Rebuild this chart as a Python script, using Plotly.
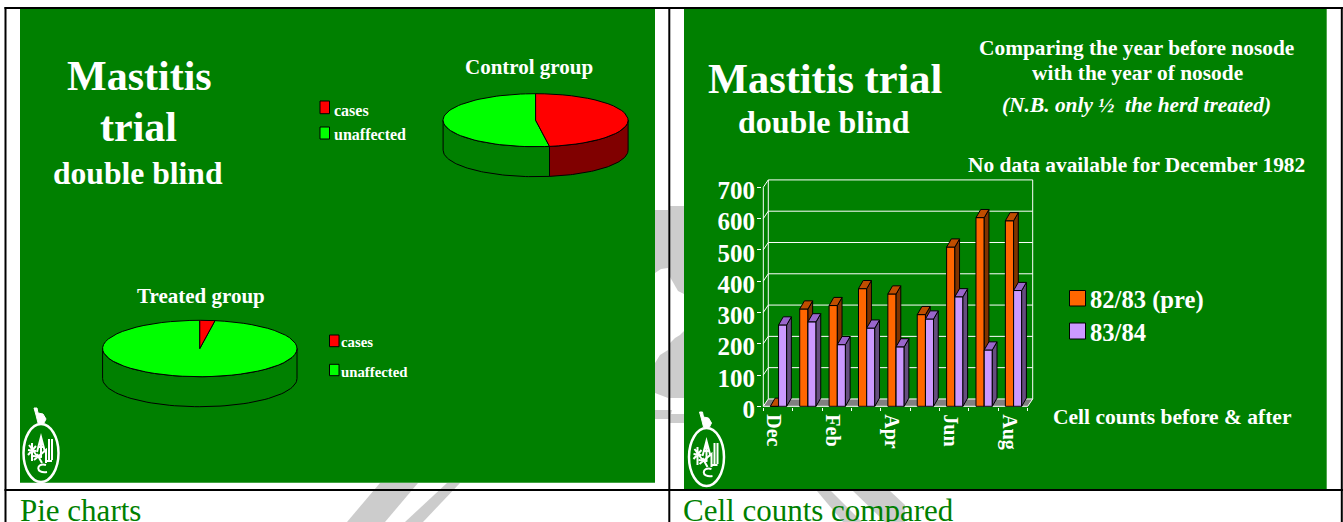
import math
import plotly.graph_objects as go

# ---------- data ----------
MONTHS = ["Dec", "Jan", "Feb", "Mar", "Apr", "May", "Jun", "Jul", "Aug"]
PRE_8283 = [0, 311, 322, 376, 359, 293, 509, 603, 593]
POST_8384 = [260, 270, 197, 250, 190, 279, 350, 180, 370]
Y_TICKS = [0, 100, 200, 300, 400, 500, 600, 700]
PIE_LABELS = ["cases", "unaffected"]
CONTROL_GROUP = [47.6, 52.4]
TREATED_GROUP = [2.5, 97.5]

# ---------- style ----------
W, H = 1343, 522
SERIF = "Liberation Serif"
BG = "#008000"
RED, RED_DK = "#FF0000", "#800000"
LIME, LIME_DK = "#00FF00", "#008000"
ORANGE, ORANGE_TOP, ORANGE_SIDE = "#FF6600", "#BF4D00", "#803300"
PURPLE, PURPLE_TOP, PURPLE_SIDE = "#CC99FF", "#9966CC", "#664D80"
GREY = "#CCCCCC"
CAPTION = "#008000"

fig = go.Figure()


def arc(cx, cy, rx, ry, a0, a1, dy=0.0, n=60):
    pts = [a0 + (a1 - a0) * i / n for i in range(n + 1)]
    return ([cx + rx * math.sin(t) for t in pts],
            [cy + dy - ry * math.cos(t) for t in pts])


def poly(xs, ys, fill, xa="x", ya="y", lw=1.0):
    fig.add_trace(go.Scatter(x=xs, y=ys, mode="lines", fill="toself", fillcolor=fill,
                             line=dict(color="black", width=lw), xaxis=xa, yaxis=ya,
                             hoverinfo="skip", showlegend=False, cliponaxis=False))


def pie(values, cx, cy, rx, ry, depth):
    total = sum(values)
    split = 2 * math.pi * values[0] / total
    lo, hi = math.pi / 2, 3 * math.pi / 2
    if split > lo:
        x1, y1 = arc(cx, cy, rx, ry, lo, split)
        x2, y2 = arc(cx, cy, rx, ry, split, lo, depth)
        poly(x1 + x2 + x1[:1], y1 + y2 + y1[:1], RED_DK)
    start = max(split, lo)
    x1, y1 = arc(cx, cy, rx, ry, start, hi)
    x2, y2 = arc(cx, cy, rx, ry, hi, start, depth)
    poly(x1 + x2 + x1[:1], y1 + y2 + y1[:1], LIME_DK)
    x1, y1 = arc(cx, cy, rx, ry, split, 2 * math.pi)
    poly([cx] + x1 + [cx], [cy] + y1 + [cy], LIME)
    x1, y1 = arc(cx, cy, rx, ry, 0, split, n=30)
    poly([cx] + x1 + [cx], [cy] + y1 + [cy], RED)


pie(CONTROL_GROUP, 535.6, 120.2, 92.5, 26.5, 30)
pie(TREATED_GROUP, 199.8, 348.5, 97.2, 28.2, 30)

WALL_DX, WALL_DY = 0.17, 23.5
BAR_DX, BAR_DY = 0.16, 26
X_LO, X_HI = -0.5, len(MONTHS) - 0.5
Y_TOP = Y_TICKS[-1]

poly([X_LO, X_HI, X_HI + WALL_DX, X_LO + WALL_DX, X_LO], [0, 0, WALL_DY, WALL_DY, 0], "#808080", "x2", "y2", 0)
gx, gy = [], []
for v in Y_TICKS:
    gx += [X_LO, X_LO + WALL_DX, X_HI + WALL_DX, None]
    gy += [v, v + WALL_DY, v + WALL_DY, None]
gx += [X_LO + WALL_DX, X_LO + WALL_DX, None, X_HI + WALL_DX, X_HI + WALL_DX, None, X_HI, X_HI + WALL_DX, None,
       X_LO, X_LO, None, X_LO, X_HI]
gy += [WALL_DY, Y_TOP + WALL_DY, None, WALL_DY, Y_TOP + WALL_DY, None, 0, WALL_DY, None,
       0, Y_TOP, None, 0, 0]
fig.add_trace(go.Scatter(x=gx, y=gy, mode="lines", line=dict(color="#FFFFFF", width=1), xaxis="x2", yaxis="y2",
                         hoverinfo="skip", showlegend=False, cliponaxis=False))


def bars(values, offset, width, name, front, top, side, xa, ya):
    idx = list(range(len(values)))
    fig.add_trace(go.Bar(x=idx, y=values, width=width, offset=offset, name=name,
                         marker=dict(color=front, line=dict(color="black", width=1)),
                         xaxis=xa, yaxis=ya, showlegend=False))
    sx, sy, tx, ty = [], [], [], []
    for i, v in zip(idx, values):
        l, r = i + offset, i + offset + width
        sx += [r, r + BAR_DX, r + BAR_DX, r, r, None]
        sy += [0, BAR_DY, v + BAR_DY, v, 0, None]
        tx += [l, l + BAR_DX, r + BAR_DX, r, l, None]
        ty += [v, v + BAR_DY, v + BAR_DY, v, v, None]
    poly(sx, sy, side, xa, ya)
    poly(tx, ty, top, xa, ya)


bars(PRE_8283, -0.26, 0.28, "82/83 (pre)", ORANGE, ORANGE_TOP, ORANGE_SIDE, "x3", "y3")
bars(POST_8384, 0.02, 0.275, "83/84", PURPLE, PURPLE_TOP, PURPLE_SIDE, "x4", "y4")

shapes = []


def rect(x0, y0, x1, y1, color, line=None):
    shapes.append(dict(type="rect", xref="x", yref="y", x0=x0, y0=y0, x1=x1, y1=y1, fillcolor=color,
                       line=dict(color=line or color, width=1 if line else 0), layer="below"))


def path(d, fill=None, color=None, width=0):
    shapes.append(dict(type="path", xref="x", yref="y", path=d, fillcolor=fill or "rgba(0,0,0,0)",
                       line=dict(color=color or "rgba(0,0,0,0)", width=width), layer="below"))


for d in [
    "M655,210 L668,210 L668,268 L661,269 L655,273 Z",
    "M670,206 L684,206 L684,294 L678,291 L674,284 L670,277 Z",
    "M655,363 L660,355 L668,350 L668,398 L655,393 Z",
    "M670,343 L675,338 L680,335 L684,331 L684,398 L670,398 Z",
    "M655,410 L672,410 L670,419 L655,419 Z",
    "M670,414 L684,414 L684,423 L670,423 Z",
    "M380,483 L418,483 L385,522 L347,522 Z",
    "M447,483 L460,483 L423,522 L405,522 Z",
    "M817,491 L831,491 L862,522 L843,522 Z",
    "M853,491 L890,491 L905,505 L905,522 L885,522 Z",
]:
    path(d, fill=GREY)

rect(20, 9, 655, 482.7, BG)
rect(684, 9, 1326.7, 489, BG)

for x in (5.5, 669.3, 1341.8):
    rect(x - 1, 7, x + 1, H, "black")
for y in (8, 490):
    rect(4.5, y - 1, W, y + 1, "black")

rect(320, 101, 329.5, 113.7, RED, "black")
rect(320, 127, 329.5, 139, LIME, "black")
rect(329.5, 335, 339, 346.7, RED, "black")
rect(329.5, 364.3, 339, 375.7, LIME, "black")
rect(1069.5, 290.5, 1085.5, 306, ORANGE, "black")
rect(1069.5, 323, 1085.5, 339, PURPLE, "black")


def logo(cx, cy):
    shapes.append(dict(type="circle", xref="x", yref="y", x0=cx - 17.5, x1=cx + 17.5, y0=cy - 29, y1=cy + 29,
                       line=dict(color="white", width=2.5), fillcolor="rgba(0,0,0,0)", layer="below"))
    path(f"M{cx-7},{cy-45} L{cx-4},{cy-45} L{cx-3},{cy-40} L{cx+2},{cy-39} L{cx+5},{cy-34} L{cx+3},{cy-30} "
         f"L{cx-3},{cy-30} L{cx-5},{cy-38} Z", fill="white", color="white", width=1)
    for seg in [
        (f"M{cx-4},{cy-1} L{cx},{cy-16} L{cx+4},{cy-1} M{cx-2},{cy-6} L{cx+3},{cy-6} M{cx},{cy-12} L{cx},{cy+3}"),
        (f"M{cx-12},{cy-8} L{cx-4},{cy+3} M{cx-13},{cy+2} L{cx-5},{cy-7} M{cx-9},{cy-10} L{cx-9},{cy+8} "
         f"M{cx-13},{cy-3} L{cx-5},{cy-2}"),
        (f"M{cx-7},{cy+7} L{cx+5},{cy-3} L{cx+5},{cy+10} M{cx-4},{cy+1} L{cx+1},{cy+10} M{cx-8},{cy+3} L{cx+1},{cy+4}"),
        (f"M{cx+8},{cy-14} L{cx+8},{cy+7} M{cx+11},{cy-14} L{cx+11},{cy+7} M{cx+5},{cy+8} L{cx+11},{cy+8}"),
        (f"M{cx+5},{cy+12} C{cx-5},{cy+9} {cx-6},{cy+21} {cx+6},{cy+19}"),
    ]:
        path(seg, color="white", width=2)


logo(41, 453)
logo(706.5, 457)

notes = []


def label(text, x, y, size, color="white", anchor="center", bold=True, italic=False):
    t = f"<b>{text}</b>" if bold else text
    t = f"<i>{t}</i>" if italic else t
    notes.append(dict(text=t, x=x, y=y, xref="x", yref="y", xanchor=anchor, yanchor="middle", showarrow=False,
                      font=dict(family=SERIF, size=size, color=color)))


label("Mastitis", 139, 76, 42)
label("trial", 138, 127, 42)
label("double blind", 137.5, 173, 31.6)
label("Control group", 528.5, 67, 21)
label("Treated group", 201, 296, 21)
label(PIE_LABELS[0], 331.5, 110, 16, anchor="left")
label(PIE_LABELS[1], 331.5, 134, 16, anchor="left")
label(PIE_LABELS[0], 339, 342, 14.8, anchor="left")
label(PIE_LABELS[1], 339, 372, 14.8, anchor="left")
label("Mastitis trial", 824.7, 78, 42.4)
label("double blind", 824.2, 122, 32)
label("Comparing the year before nosode", 1136.5, 48, 21.4)
label("with the year of nosode", 1137.5, 73, 21.4)
label("(N.B. only ½  the herd treated)", 1136.7, 105, 21.4, italic=True)
label("No data available for December 1982", 1136.5, 165, 21.4)
label("82/83 (pre)", 1088, 300, 24.6, anchor="left")
label("83/84", 1088, 332, 24.6, anchor="left")
label("Cell counts before & after", 1172.5, 417, 21.5)
label("Pie charts", 17.5, 510, 31, color=CAPTION, anchor="left", bold=False)
label("Cell counts compared", 681, 510, 31, color=CAPTION, anchor="left", bold=False)

hidden = dict(visible=False, showgrid=False, zeroline=False)
SX, SY = 29.378, 0.3129
BASE_X, BASE_Y = 763.3, 406.3
x_rng = [X_LO - 0.04, X_HI + 0.25]
y_rng = [-3.2, Y_TOP + 30]
x_dom = [(BASE_X - 0.04 * SX) / W, (BASE_X + (x_rng[1] - X_LO) * SX) / W]
y_dom = [1 - (BASE_Y + 1) / H, 1 - (BASE_Y - y_rng[1] * SY) / H]
tick_font = dict(family=SERIF, size=25, color="white", weight=700)

fig.update_layout(
    width=W, height=H, margin=dict(l=0, r=0, t=0, b=0, pad=0), autosize=False,
    paper_bgcolor="white", plot_bgcolor="rgba(0,0,0,0)", showlegend=False,
    shapes=shapes, annotations=notes,
    xaxis=dict(range=[0, W], domain=[0, 1], **hidden),
    yaxis=dict(range=[H, 0], domain=[0, 1], **hidden),
    xaxis2=dict(domain=x_dom, range=x_rng, anchor="y2", showgrid=False, zeroline=False, showline=False,
                automargin=False,
                tickmode="array", tickvals=list(range(0, len(MONTHS), 2)), ticktext=MONTHS[::2],
                ticks="", tickangle=90, ticklabelstandoff=6, ticklabelshift=-4,
                tickfont=dict(family=SERIF, size=20, color="white", weight=700),
                minor=dict(tickmode="array", tickvals=[i - 0.5 for i in range(len(MONTHS) + 1)],
                           ticks="outside", ticklen=3, tickcolor="white", tickwidth=1, showgrid=False)),
    yaxis2=dict(domain=y_dom, range=y_rng, anchor="x2", showgrid=False, zeroline=False, showline=False,
                automargin=False,
                tickmode="array", tickvals=Y_TICKS, ticks="outside", ticklen=4, tickcolor="white",
                ticklabelstandoff=-3, ticklabelshift=3, tickfont=tick_font),
    xaxis3=dict(overlaying="x2", range=x_rng, anchor="y3", **hidden),
    yaxis3=dict(overlaying="y2", range=y_rng, anchor="x3", **hidden),
    xaxis4=dict(overlaying="x2", range=x_rng, anchor="y4", **hidden),
    yaxis4=dict(overlaying="y2", range=y_rng, anchor="x4", **hidden),
)

fig.write_html("out.html", config={"displayModeBar": False}, post_script="document.body.style.margin='0';")
